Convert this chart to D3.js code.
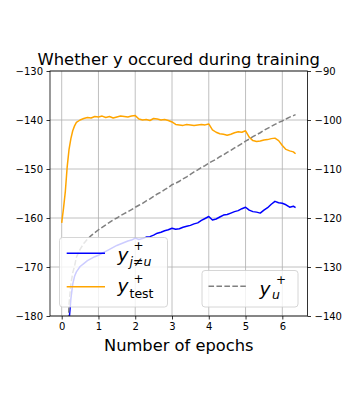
<!DOCTYPE html>
<html><head><meta charset="utf-8">
<script src="https://cdn.jsdelivr.net/npm/d3@7"></script>
<style>
html,body{margin:0;padding:0;background:#fff;}
svg{display:block;font-family:"DejaVu Sans",sans-serif;}
</style></head>
<body>
<svg id="chart" width="356" height="414"></svg>
<script>
const epochs = [0,0.05,0.1,0.15,0.2,0.25,0.3,0.35,0.4,0.5,0.6,0.7,0.8,0.9,1.0,1.1,1.2,1.3,1.4,1.5,1.6,1.7,1.8,1.9,2.0,2.1,2.2,2.3,2.4,2.5,2.6,2.7,2.8,2.9,3.0,3.1,3.2,3.3,3.4,3.5,3.6,3.7,3.8,3.9,4.0,4.1,4.2,4.3,4.4,4.5,4.6,4.7,4.8,4.9,5.0,5.1,5.2,5.3,5.4,5.5,5.6,5.7,5.8,5.9,6.0,6.1,6.2,6.3,6.36];
const yTest = [-161,-158,-154.5,-149.5,-146,-143.8,-142.2,-141.2,-140.5,-140.0,-139.7,-139.5,-139.6,-139.3,-139.4,-139.2,-139.5,-139.3,-139.6,-139.4,-139.2,-139.3,-139.4,-139.2,-139.1,-139.8,-140.0,-139.9,-140.1,-139.7,-139.8,-140.0,-139.9,-140.1,-140.4,-140.9,-141.0,-141.1,-140.9,-141.0,-141.1,-141.0,-140.9,-141.0,-140.8,-142.0,-142.5,-142.8,-142.9,-143.1,-142.9,-142.6,-142.4,-142.5,-142.2,-143.5,-144.2,-144.4,-144.3,-144.1,-144.0,-143.8,-143.7,-144.2,-145.2,-146.0,-146.3,-146.5,-146.9];
const yOther = [-200,-196,-191,-186,-181,-176.5,-173.5,-171.9,-171.0,-169.9,-169.3,-168.7,-168.3,-167.9,-167.6,-167.2,-166.8,-166.4,-166.0,-165.6,-165.3,-165.0,-164.7,-164.5,-164.1,-164.4,-164.2,-163.9,-163.8,-163.5,-163.1,-162.9,-162.6,-162.4,-162.1,-162.3,-162.2,-161.9,-161.7,-161.5,-161.2,-161.0,-160.5,-160.1,-159.7,-160.4,-160.2,-159.8,-159.4,-159.3,-159.0,-158.7,-158.5,-158.1,-157.8,-158.4,-158.7,-158.8,-159.0,-158.4,-157.9,-157.2,-156.6,-156.9,-157.0,-157.3,-157.8,-157.6,-157.9];
const yU = [-175,-165,-156,-148,-137.5,-133.5,-131.2,-129.8,-128.0,-126.4,-125.2,-124.3,-123.6,-123.0,-122.4,-121.9,-121.4,-120.9,-120.4,-120.0,-119.5,-119.1,-118.7,-118.3,-117.8,-117.4,-117.0,-116.5,-116.1,-115.6,-115.1,-114.7,-114.2,-113.8,-113.2,-112.9,-112.5,-112.0,-111.6,-111.1,-110.6,-110.2,-109.7,-109.3,-108.8,-108.4,-108.0,-107.5,-107.1,-106.6,-106.2,-105.7,-105.3,-104.8,-104.3,-103.9,-103.4,-103.0,-102.6,-102.1,-101.7,-101.3,-100.9,-100.5,-100.2,-99.8,-99.4,-99.1,-98.9];
const xTicks = [0,1,2,3,4,5,6];
const leftTicks = [-180,-170,-160,-150,-140,-130];
const rightTicks = [-140,-130,-120,-110,-100,-90];
const titleText = "Whether y occured during training";
const xLabelText = "Number of epochs";

const svg = d3.select("#chart");
const L = 50, R = 307.5, T = 71, B = 316;
const x = d3.scaleLinear().domain([-0.318, 6.685]).range([L, R]);
const yL = d3.scaleLinear().domain([-180, -130]).range([B, T]);
const yR = d3.scaleLinear().domain([-140, -90]).range([B, T]);

svg.append("defs").append("clipPath").attr("id","clip")
  .append("rect").attr("x",L).attr("y",T).attr("width",R-L).attr("height",B-T);

// grid
const grid = svg.append("g").attr("stroke","#b0b0b0").attr("stroke-width",0.8);
xTicks.forEach(t => grid.append("line").attr("x1",x(t)).attr("x2",x(t)).attr("y1",T).attr("y2",B));
leftTicks.forEach(t => grid.append("line").attr("x1",L).attr("x2",R).attr("y1",yL(t)).attr("y2",yL(t)));

const plot = svg.append("g").attr("clip-path","url(#clip)");
const lineL = d3.line().x((d,i)=>x(epochs[i])).y(d=>yL(d));
const lineR = d3.line().x((d,i)=>x(epochs[i])).y(d=>yR(d));

plot.append("path").datum(yOther).attr("d",lineL).attr("fill","none").attr("stroke","#0000ff").attr("stroke-width",1.5).attr("stroke-linejoin","round");
plot.append("path").datum(yTest).attr("d",lineL).attr("fill","none").attr("stroke","#ffa500").attr("stroke-width",1.5).attr("stroke-linejoin","round");

// math label as one text element with positioned tspans
function mathLabel(g, x0, base, sub, supX, subX, subItalic, supBase, subBase) {
  const t = g.append("text").attr("fill","#000");
  t.append("tspan").attr("x",x0).attr("y",base).attr("font-size",18.5).attr("font-style","italic").text("y");
  t.append("tspan").attr("x",subX).attr("y",subBase).attr("font-size",12.5).attr("font-style",subItalic?"italic":"normal").text(sub);
  t.append("tspan").attr("x",supX).attr("y",supBase).attr("font-size",12).attr("font-style","normal").text("+");
}
const leg1 = svg.append("g");
leg1.append("rect").attr("x",59.5).attr("y",237.5).attr("width",108).attr("height",69.5).attr("rx",3)
  .attr("fill","#fff").attr("fill-opacity",0.8).attr("stroke","#cccccc").attr("stroke-width",0.8);
leg1.append("line").attr("x1",66.7).attr("x2",105).attr("y1",253.3).attr("y2",253.3).attr("stroke","#0000ff").attr("stroke-width",1.5);
leg1.append("line").attr("x1",66.7).attr("x2",105).attr("y1",286.7).attr("y2",286.7).attr("stroke","#ffa500").attr("stroke-width",1.5);
mathLabel(leg1, 117.5, 260.5, "j≠u", 133.5, 129.5, true, 249.5, 265.5);
mathLabel(leg1, 117.5, 292, "test", 133.5, 129.5, false, 283, 298);

// ax2 line
plot.append("path").datum(yU).attr("d",lineR).attr("fill","none").attr("stroke","#808080").attr("stroke-width",1.5).attr("stroke-dasharray","5.55,2.4");

// legend 2
const leg2 = svg.append("g");
leg2.append("rect").attr("x",202).attr("y",270.5).attr("width",96).attr("height",36.5).attr("rx",3)
  .attr("fill","#fff").attr("fill-opacity",0.8).attr("stroke","#cccccc").attr("stroke-width",0.8);
leg2.append("line").attr("x1",208.5).attr("x2",246.7).attr("y1",286.3).attr("y2",286.3).attr("stroke","#808080").attr("stroke-width",1.5).attr("stroke-dasharray","5.55,2.4");
mathLabel(leg2, 259.5, 295, "u", 276, 272, true, 284, 299);

// spines
svg.append("rect").attr("x",L).attr("y",T).attr("width",R-L).attr("height",B-T).attr("fill","none").attr("stroke","#000").attr("stroke-width",0.8);

// axes
const ax = svg.append("g").attr("transform",`translate(0,${B})`)
  .call(d3.axisBottom(x).tickValues(xTicks).tickSize(3.5).tickPadding(3.5).tickFormat(d3.format("d")));
const al = svg.append("g").attr("transform",`translate(${L},0)`)
  .call(d3.axisLeft(yL).tickValues(leftTicks).tickSize(3.5).tickPadding(3.5));
const ar = svg.append("g").attr("transform",`translate(${R},0)`)
  .call(d3.axisRight(yR).tickValues(rightTicks).tickSize(3.5).tickPadding(3.5));
[ax,al,ar].forEach(g => {
  g.select(".domain").remove();
  g.selectAll("text").attr("font-size",10).attr("font-family","DejaVu Sans").attr("fill","#000");
  g.selectAll("line").attr("stroke","#000").attr("stroke-width",0.8);
});

svg.append("text").attr("x",(L+R)/2).attr("y",65).attr("text-anchor","middle").attr("font-size",16.4).attr("fill","#000").text(titleText);
svg.append("text").attr("x",(L+R)/2).attr("y",351).attr("text-anchor","middle").attr("font-size",16.3).attr("fill","#000").text(xLabelText);
</script>
</body></html>
